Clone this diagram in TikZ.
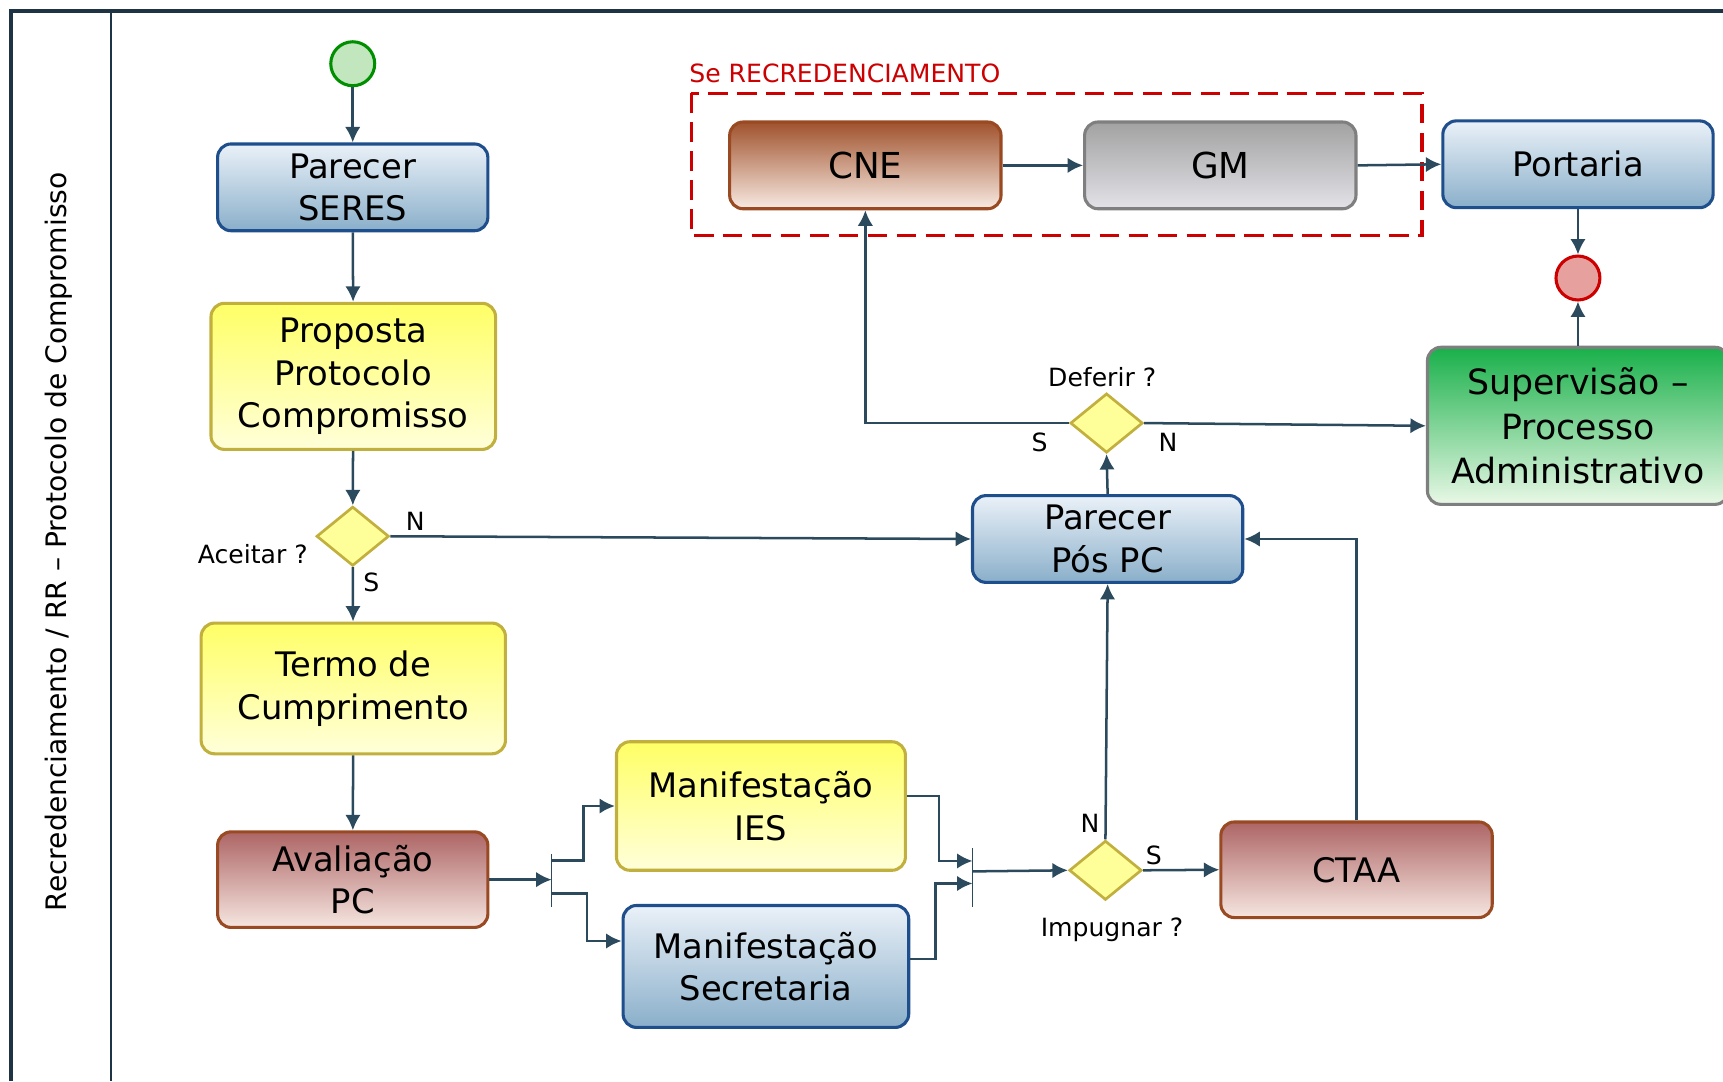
\documentclass[tikz,border=0pt]{standalone}
\usepackage{fontspec}
\setmainfont{DejaVu Sans}
\usetikzlibrary{shapes.geometric,arrows.meta}

\definecolor{linec}{HTML}{2C4A5E}
\definecolor{framec}{HTML}{1E3445}
\definecolor{blueb}{HTML}{1F4E8C}
\definecolor{bluetop}{HTML}{EAF1F8}
\definecolor{bluemid}{HTML}{A9C4D8}
\definecolor{bluebot}{HTML}{8AAFCA}
\definecolor{yelb}{HTML}{C2B03E}
\definecolor{yeltop}{HTML}{FFFF66}
\definecolor{yelbot}{HTML}{FFFFDA}
\definecolor{redb}{HTML}{9A4A22}
\definecolor{redtop}{HTML}{AD6565}
\definecolor{redmid}{HTML}{E2A39C}
\definecolor{redbot}{HTML}{F6E6E0}
\definecolor{cnetop}{HTML}{A0522D}
\definecolor{cnemid}{HTML}{E8AD88}
\definecolor{cnebot}{HTML}{F8EAE2}
\definecolor{grayb}{HTML}{7F7F7F}
\definecolor{graytop}{HTML}{A2A2A2}
\definecolor{graymid}{HTML}{F0F0F0}
\definecolor{graybot}{HTML}{E2E2E8}
\definecolor{grntop}{HTML}{19B04A}
\definecolor{grnmid}{HTML}{B5E6AE}
\definecolor{grnbot}{HTML}{E9F8E6}
\definecolor{gatef}{HTML}{FFFF99}
\definecolor{rrred}{HTML}{CC0000}

\tikzset{
  task/.style={rounded corners=7pt,line width=1.6pt,minimum width=4.92cm,minimum height=1.58cm,
    align=center,inner sep=2pt,font=\fontsize{17.5}{22}\selectfont},
  bluetask/.style={task,draw=blueb,top color=bluetop,middle color=bluemid,bottom color=bluebot},
  yeltask/.style={task,draw=yelb,top color=yeltop,bottom color=yelbot},
  redtask/.style={task,draw=redb,top color=redtop,middle color=redmid,bottom color=redbot},
  gate/.style={diamond,draw=yelb,fill=gatef,line width=1.4pt,minimum width=1.32cm,minimum height=1.08cm,inner sep=0pt},
  flow/.style={draw=linec,line width=1.3pt,-{Latex[length=8pt,width=8pt]}},
  bar/.style={draw=linec,line width=0.8pt},
  lbl/.style={font=\fontsize{13}{15}\selectfont,inner sep=0pt},
}

\begin{document}
\begin{tikzpicture}[x=0.02cm,y=-0.02cm]
\useasboundingbox (0,0) rectangle (1568,984);

\draw [framec,line width=1.8pt] (10,984) -- (10,10) -- (1568,10);
\draw [framec,line width=0.9pt] (101,10) -- (101,984);
\node [rotate=90,font=\fontsize{14.6}{17}\selectfont] (lane) at (53,493) {Recredenciamento / RR – Protocolo de Compromisso};

\node [circle,draw=green!45!black!80!green,line width=1.6pt,fill={rgb,255:red,194;green,230;blue,189},minimum size=0.8cm,inner sep=0pt] (inicio) at (321,58) {};
\node [bluetask] (seres) at (321,170.5) {Parecer\\SERES};
\node [yeltask,minimum width=5.18cm,minimum height=2.66cm] (proposta) at (321.5,342.5) {Proposta\\Protocolo\\Compromisso};
\node [gate] (aceitar) at (321,488) {};
\node [yeltask,minimum width=5.54cm,minimum height=2.38cm] (termo) at (321.5,626.5) {Termo de\\Cumprimento};
\node [redtask,minimum height=1.74cm] (avaliacao) at (321,800.5) {Avaliação\\PC};
\node [yeltask,minimum width=5.26cm,minimum height=2.34cm] (ies) at (692.5,733.5) {Manifestação\\IES};
\node [bluetask,minimum width=5.2cm,minimum height=2.22cm] (secretaria) at (697,879.5) {Manifestação\\Secretaria};
\node [gate] (impugnar) at (1006,792) {};
\node [redtask,minimum width=4.94cm,minimum height=1.74cm] (ctaa) at (1234.5,791.5) {CTAA};
\node [bluetask] (pospc) at (1008,490.5) {Parecer\\Pós PC};
\node [gate] (deferir) at (1007,385) {};
\node [task,draw=redb,top color=cnetop,middle color=cnemid,bottom color=cnebot,minimum width=4.94cm,font=\fontsize{18.5}{22}\selectfont] (cne) at (787.5,150.5) {CNE};
\node [task,draw=grayb,top color=graytop,middle color=graymid,bottom color=graybot,minimum width=4.94cm,font=\fontsize{18.5}{22}\selectfont] (gm) at (1110.5,150.5) {GM};
\node [bluetask] (portaria) at (1436,149.5) {Portaria};
\node [circle,draw=rrred,line width=1.6pt,fill={rgb,255:red,230;green,160;blue,158},minimum size=0.8cm,inner sep=0pt] (fim) at (1436,253) {};
\node [task,draw=grayb,top color=grntop,middle color=grnmid,bottom color=grnbot,minimum width=5.48cm,minimum height=2.86cm,font=\fontsize{18}{23}\selectfont] (supervisao) at (1436,387.5) {Supervisão –\\Processo\\Administrativo};

\draw [rrred,line width=1.7pt,dash pattern=on 10pt off 5pt] (629,85) rectangle (1294,214);
\node [lbl,anchor=west,text=rrred] (serecred) at (627,67) {Se RECREDENCIAMENTO};

\node [lbl] (aceitarq) at (230,504) {Aceitar ?};
\node [lbl] (aceitarn) at (378,474) {N};
\node [lbl] (aceitars) at (338,530) {S};
\node [lbl] (deferirq) at (1003,343) {Deferir ?};
\node [lbl] (deferirs) at (946,403) {S};
\node [lbl] (deferirn) at (1063,403) {N};
\node [lbl] (impugnarq) at (1012,846) {Impugnar ?};
\node [lbl] (impugnarn) at (992,749) {N};
\node [lbl] (impugnars) at (1050,778) {S};

\coordinate (forktop) at (502,777);
\coordinate (forkbot) at (502,825);
\coordinate (forkup) at (502,783);
\coordinate (forkdown) at (502,813);
\coordinate (jointop) at (885,772);
\coordinate (joinbot) at (885,825);
\coordinate (joinup) at (885,783.5);
\coordinate (joindown) at (885,804);
\coordinate (joinout) at (885,793);
\draw [bar] (forktop) -- (forkbot);
\draw [bar] (jointop) -- (joinbot);

\draw [flow] (inicio) -- (seres);
\draw [flow] (seres) -- (proposta);
\draw [flow] (proposta) -- (aceitar);
\draw [flow] (aceitar) -- (termo);
\draw [flow] (aceitar.east) -- (pospc.west);
\draw [flow] (termo) -- (avaliacao);
\draw [flow] (avaliacao.east) -- (avaliacao.east -| forktop);
\draw [flow] (forkup) -- ++(29,0) |- (ies.west);
\draw [flow] (forkdown) -- ++(32,0) |- (secretaria.170);
\draw [flow] (ies.4) -- ++(29,0) |- (joinup);
\draw [flow] (secretaria.3) -- ++(23,0) |- (joindown);
\draw [flow] (joinout) -- (impugnar.west);
\draw [flow] (impugnar.east) -- (ctaa.west);
\draw [flow] (impugnar.north) -- (pospc.south);
\draw [flow] (ctaa.north) |- (pospc.east);
\draw [flow] (pospc.north) -- (deferir.south);
\draw [flow] (deferir.west) -| (cne.south);
\draw [flow] (deferir.east) -- (supervisao.west);
\draw [flow] (cne.east) -- (gm.west);
\draw [flow] (gm.east) -- (portaria.west);
\draw [flow] (portaria.south) -- (fim.north);
\draw [flow] (supervisao.north) -- (fim.south);

\end{tikzpicture}
\end{document}
